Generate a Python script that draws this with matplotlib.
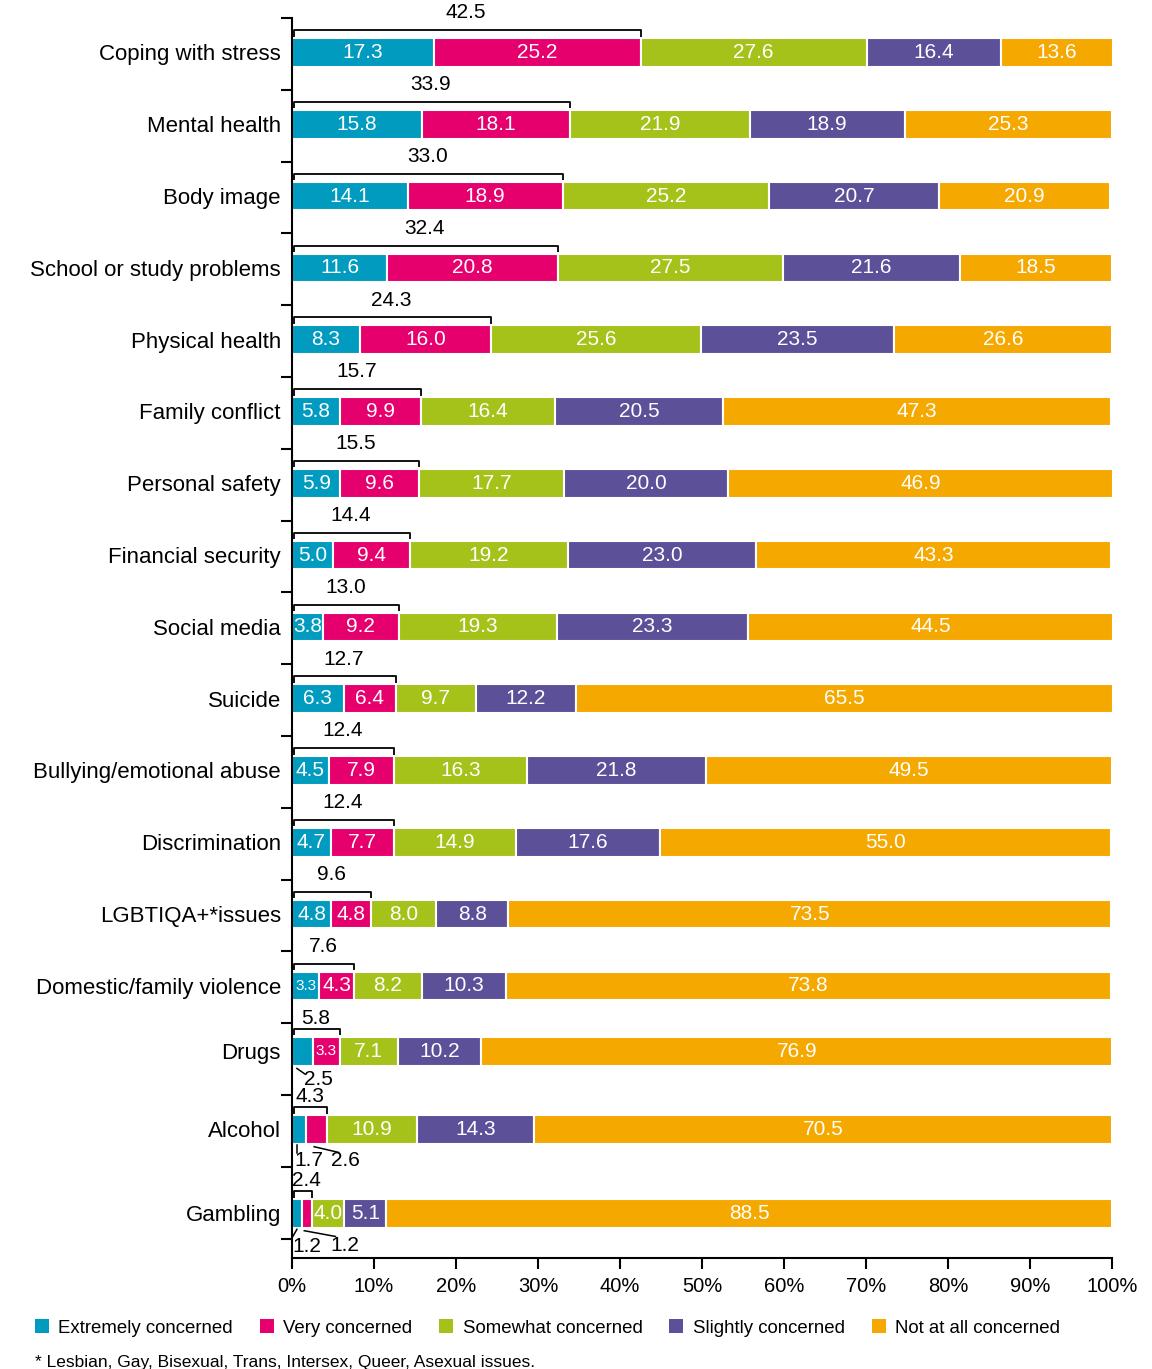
import numpy as np
import matplotlib
matplotlib.use('Agg')
import matplotlib.pyplot as plt
from matplotlib.patches import Patch

plt.rcParams['font.family'] = ['Liberation Sans', 'DejaVu Sans']

categories = ['Coping with stress', 'Mental health', 'Body image',
              'School or study problems', 'Physical health', 'Family conflict',
              'Personal safety', 'Financial security', 'Social media', 'Suicide',
              'Bullying/emotional abuse', 'Discrimination', 'LGBTIQA+*issues',
              'Domestic/family violence', 'Drugs', 'Alcohol', 'Gambling']

extremely = [17.3, 15.8, 14.1, 11.6, 8.3, 5.8, 5.9, 5.0, 3.8, 6.3, 4.5, 4.7, 4.8, 3.3, 2.5, 1.7, 1.2]
very      = [25.2, 18.1, 18.9, 20.8, 16.0, 9.9, 9.6, 9.4, 9.2, 6.4, 7.9, 7.7, 4.8, 4.3, 3.3, 2.6, 1.2]
somewhat  = [27.6, 21.9, 25.2, 27.5, 25.6, 16.4, 17.7, 19.2, 19.3, 9.7, 16.3, 14.9, 8.0, 8.2, 7.1, 10.9, 4.0]
slightly  = [16.4, 18.9, 20.7, 21.6, 23.5, 20.5, 20.0, 23.0, 23.3, 12.2, 21.8, 17.6, 8.8, 10.3, 10.2, 14.3, 5.1]
not_at_all = [13.6, 25.3, 20.9, 18.5, 26.6, 47.3, 46.9, 43.3, 44.5, 65.5, 49.5, 55.0, 73.5, 73.8, 76.9, 70.5, 88.5]

series_names = ['Extremely concerned', 'Very concerned', 'Somewhat concerned',
                'Slightly concerned', 'Not at all concerned']
colors = ['#009bbf', '#e5006e', '#a5c21a', '#5c5099', '#f5a800']


def main():
    fig = plt.figure(figsize=(11.52, 13.69), dpi=100)
    ax = fig.add_axes([292 / 1152, 111 / 1369, 820 / 1152, (1258 - 18) / 1369])

    n = len(categories)
    ypos = np.arange(n) - 0.02
    ypos[14] -= 0.09
    ypos[16] += 0.17
    h = 0.40

    data = [extremely, very, somewhat, slightly, not_at_all]
    left = np.zeros(n)
    for vals, col in zip(data, colors):
        vals = np.array(vals)
        ax.barh(ypos, vals, left=left, height=h, color=col,
                edgecolor='white', linewidth=1.5)
        for i in range(n):
            v = vals[i]
            cx = left[i] + v / 2
            if v < 3.0:
                continue
            fs = 11 if v < 3.5 else 15
            ax.text(cx, ypos[i], '%.1f' % v, color='white', fontsize=fs,
                    ha='center', va='center')
        left += vals

    # brackets with combined extremely + very
    for i in range(n):
        tot = round(extremely[i] + very[i], 1)
        y0 = ypos[i] - h / 2
        yb = ypos[i] - 0.31
        ax.plot([0.2, 0.2, tot, tot], [y0 - 0.02, yb, yb, y0 - 0.02],
                color='black', lw=1.3, solid_capstyle='butt', clip_on=False)
        ty = ypos[i] - (0.55 if i < 14 else 0.46)
        ax.text(max(tot / 2, 1.8), ty, '%.1f' % tot, fontsize=15,
                ha='center', va='center')

    # small segment labels under the bars
    def outside(i, text, x_text, dy, line):
        ax.text(x_text, ypos[i] + dy, text, fontsize=15, ha='center', va='center')
        (x1, d1), (x2, d2) = line
        ax.plot([x1, x2], [ypos[i] + d1, ypos[i] + d2], color='black', lw=1.1,
                clip_on=False)

    outside(14, '%.1f' % extremely[14], 3.2, 0.40, ((0.6, 0.24), (1.6, 0.32)))
    outside(15, '%.1f' % extremely[15], 2.0, 0.43, ((0.6, 0.22), (0.6, 0.33)))
    outside(15, '%.1f' % very[15], 6.5, 0.43, ((2.7, 0.24), (5.7, 0.32)))
    outside(16, '%.1f' % extremely[16], 1.8, 0.46, ((0.6, 0.22), (0.1, 0.32)))
    outside(16, '%.1f' % very[16], 6.5, 0.44, ((1.5, 0.24), (5.3, 0.32)))

    ax.set_xlim(0, 100)
    ax.set_ylim(16.77, -0.5)
    ax.set_xticks(np.arange(0, 101, 10))
    ax.set_xticklabels(['%d%%' % t for t in range(0, 101, 10)], fontsize=14.5)
    ax.set_yticks(ypos)
    ax.set_yticklabels(categories, fontsize=16)
    ax.set_yticks(np.arange(-0.5, n, 1.0), minor=True)
    ax.tick_params(axis='y', which='major', length=0, pad=8)
    ax.tick_params(axis='y', which='minor', length=8, width=1.5, direction='out')
    ax.tick_params(axis='x', length=8, width=1.5, direction='out', pad=6)
    for s in ['top', 'right']:
        ax.spines[s].set_visible(False)
    for s in ['left', 'bottom']:
        ax.spines[s].set_linewidth(1.5)

    handles = [Patch(facecolor=c, edgecolor='none') for c in colors]
    fig.legend(handles, series_names, loc='center left',
               bbox_to_anchor=(35 / 1152, 41 / 1369), ncol=5, frameon=False,
               fontsize=13.4, handlelength=0.75, handleheight=0.8,
               handletextpad=0.5, columnspacing=1.45, borderpad=0, borderaxespad=0)

    fig.text(35 / 1152, 14 / 1369, '* Lesbian, Gay, Bisexual, Trans, Intersex, Queer, Asexual issues.',
             fontsize=12.5, ha='left', va='top')

    fig.savefig('out.png', dpi=100)


if __name__ == '__main__':
    main()
